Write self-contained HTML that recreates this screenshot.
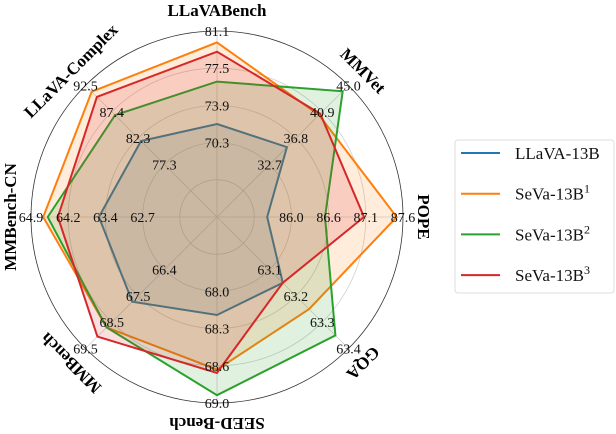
<!DOCTYPE html>
<html><head><meta charset="utf-8"><style>
body{margin:0;background:#fff;}
svg{display:block;font-family:"Liberation Serif","DejaVu Serif",serif;}
text{font-family:"Liberation Serif","DejaVu Serif",serif;}
</style></head><body>
<svg id="chart" width="616" height="434"></svg>
<script>
const axes = ["LLaVABench","MMVet","POPE","GQA","SEED-Bench","MMBench","MMBench-CN","LLaVA-Complex"];
const tickLabels = [
 ["70.3","73.9","77.5","81.1"],
 ["32.7","36.8","40.9","45.0"],
 ["86.0","86.6","87.1","87.6"],
 ["63.1","63.2","63.3","63.4"],
 ["68.0","68.3","68.6","69.0"],
 ["66.4","67.5","68.5","69.5"],
 ["62.7","63.4","64.2","64.9"],
 ["77.3","82.3","87.4","92.5"]
];
// value at centre and full-scale value for each axis
const axisMin = [63.1,24.5,84.93,62.9,67.33,64.33,61.23,67.17];
const axisMax = [81.1,45.0,87.6,63.4,69.0,69.5,64.9,92.5];
const seriesNames = ["LLaVA-13B","SeVa-13B","SeVa-13B","SeVa-13B"];
const seriesSup = ["","1","2","3"];
const llava = [72.1,35.4,85.65,63.15,68.21,67.66,63.56,81.8];
const seva1 = [80.0,40.4,87.51,63.25,68.70,68.67,64.66,91.3];
const seva2 = [76.2,44.1,86.48,63.35,68.93,68.67,64.57,86.8];
const seva3 = [79.1,40.6,87.04,63.15,68.73,69.03,64.37,90.3];
const seriesData = [llava,seva1,seva2,seva3];
const colors = ["#1f77b4","#ff7f0e","#2ca02c","#d62728"];

const NS="http://www.w3.org/2000/svg";
const svg=document.getElementById('chart');
const cx=217, cy=217, R=186;
const FF='"Liberation Serif","DejaVu Serif",serif';
function mk(tag,attrs,parent){const e=document.createElementNS(NS,tag);for(const k in attrs)e.setAttribute(k,attrs[k]);(parent||svg).appendChild(e);return e;}
function ang(i){return i*2*Math.PI/axes.length;}
function pt(i,f){const a=ang(i);return [cx+R*f*Math.sin(a), cy-R*f*Math.cos(a)];}
function frac(i,v){return (v-axisMin[i])/(axisMax[i]-axisMin[i]);}

[0.2,0.4,0.6,0.8].forEach(f=>{
  const c=mk('circle',{cx:cx,cy:cy,r:R*f,fill:'none',stroke:'#d0d0d0','stroke-width':0.8});
  
  
});
axes.forEach((a,i)=>{
  const p=pt(i,1);
  const l=mk('line',{x1:cx,y1:cy,x2:p[0],y2:p[1],stroke:'#d0d0d0','stroke-width':0.8});
  
  
});
const outer=mk('circle',{cx:cx,cy:cy,r:R,fill:'none',stroke:'#333','stroke-width':0.8});



seriesData.forEach((d,s)=>{
  const pts=d.map((v,i)=>pt(i,frac(i,v)).map(n=>n.toFixed(1)).join(',')).join(' ');
  const pg=mk('polygon',{points:pts,fill:colors[s],'fill-opacity':0.15,stroke:colors[s],'stroke-width':2,'stroke-linejoin':'miter'});
  
  
});

tickLabels.forEach((arr,i)=>{
  arr.forEach((t,k)=>{
    const p=pt(i,0.4+0.2*k);
    const tx=mk('text',{x:p[0],y:p[1]+5,'text-anchor':'middle','font-size':14,'font-family':FF,fill:'#111'});
    tx.textContent=t;
    
    
  });
});

axes.forEach((a,i)=>{
  const p=pt(i,1.11);
  const deg=i*45;
  const tx=mk('text',{x:p[0],y:p[1],'text-anchor':'middle','dominant-baseline':'central','font-size':17,'font-weight':'bold','font-family':FF,fill:'#000',transform:`rotate(${deg} ${p[0].toFixed(1)} ${p[1].toFixed(1)})`});
  tx.textContent=a;
  
  
});

const lg=mk('g',{});


mk('rect',{x:455,y:140,width:159,height:153,rx:3,fill:'#fff',stroke:'#ddd','stroke-width':1},lg);
seriesNames.forEach((n,s)=>{
  const y=153+s*40.7;
  const g=mk('g',{},lg);
  
  
  mk('line',{x1:461,y1:y,x2:500,y2:y,stroke:colors[s],'stroke-width':2},g);
  const t=mk('text',{x:515,y:y+6,'font-size':17,'font-family':FF,fill:'#111'},g);
  t.textContent=n;
  if(seriesSup[s]){const sp=mk('tspan',{dy:-7,'font-size':12},t);sp.textContent=seriesSup[s];}
});
</script>
</body></html>
